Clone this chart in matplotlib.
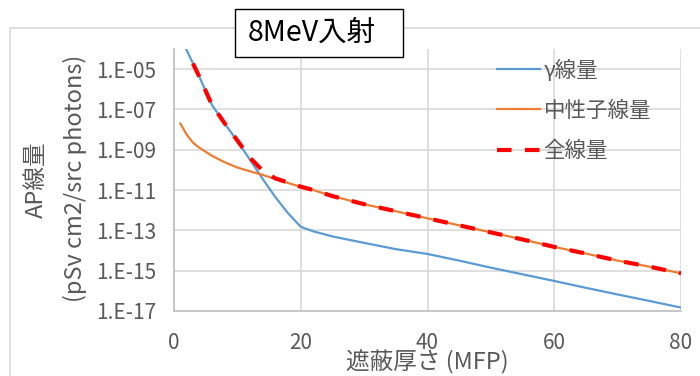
import numpy as np
import matplotlib
matplotlib.use("Agg")
import matplotlib.pyplot as plt
from matplotlib.patches import Rectangle

plt.rcParams['font.family'] = ['Noto Sans CJK JP', 'DejaVu Sans']

# 遮蔽厚さ (MFP)
thick = [1, 2, 3, 4, 6, 8, 10, 12, 14, 16, 18, 20, 22, 25, 30, 35, 40, 45, 50, 55, 60, 65, 70, 75, 80]
# log10 of dose
gamma_log = [-3.4, -4.06, -4.72, -5.38, -6.78, -7.7, -8.57, -9.5, -10.45, -11.35, -12.15, -12.82,
             -13.05, -13.3, -13.62, -13.93, -14.17, -14.5, -14.85, -15.18, -15.51, -15.85, -16.18, -16.5, -16.83]
neutron_log = [-7.7, -8.25, -8.65, -8.9, -9.3, -9.62, -9.88, -10.07, -10.25, -10.45, -10.65, -10.84,
               -11.0, -11.3, -11.7, -12.05, -12.4, -12.75, -13.1, -13.45, -13.82, -14.15, -14.5, -14.8, -15.13]
total_thick = thick[2:]
total_log = [-4.72, -5.38, -6.78, -7.69, -8.54, -9.4, -10.04, -10.42, -10.63, -10.83,
             -11.0, -11.3, -11.7, -12.05, -12.4, -12.75, -13.1, -13.45, -13.82, -14.15, -14.5, -14.8, -15.13]

yticks = [1e-17, 1e-15, 1e-13, 1e-11, 1e-9, 1e-7, 1e-5]
ytick_labels = ["1.E-17", "1.E-15", "1.E-13", "1.E-11", "1.E-09", "1.E-07", "1.E-05"]
xticks = [0, 20, 40, 60, 80]

gray = "#595959"

fig = plt.figure(figsize=(7, 3.76), dpi=100)
# outer chart frame (cut off at right/bottom)
fig.patches.append(Rectangle((10 / 700, -0.1), 1.2, 1 - 28 / 376 + 0.1, transform=fig.transFigure,
                             fill=False, edgecolor="#D9D9D9", linewidth=1.2))

ax = fig.add_axes([174 / 700, 1 - 311 / 376, (681 - 174) / 700, (311 - 49) / 376])
ax.plot(thick, 10.0 ** np.array(gamma_log), color="#5B9BD5", linewidth=1.6, label="γ線量")
ax.plot(thick, 10.0 ** np.array(neutron_log), color="#ED7D31", linewidth=1.6, label="中性子線量")
ax.plot(total_thick, 10.0 ** np.array(total_log), color="#FF0000", linewidth=3,
        linestyle=(0, (3.5, 3.2)), label="全線量")

ax.set_yscale("log")
ax.set_ylim(1e-17, 1e-4)
ax.set_xlim(0, 80)
ax.set_yticks(yticks)
ax.set_yticklabels(ytick_labels)
ax.yaxis.set_minor_locator(matplotlib.ticker.NullLocator())
ax.set_xticks(xticks)
ax.grid(True, color="#D9D9D9", linewidth=1.2)
ax.set_axisbelow(True)
for s in ["top", "right"]:
    ax.spines[s].set_visible(False)
for s in ["left", "bottom"]:
    ax.spines[s].set_color("#BFBFBF")
    ax.spines[s].set_linewidth(1.2)
ax.tick_params(length=0, labelsize=15, labelcolor=gray)
ax.tick_params(axis="x", pad=15)
ax.tick_params(axis="y", pad=13)

ax.set_xlabel("遮蔽厚さ (MFP)", fontsize=17, color=gray, labelpad=-3)
fig.text(36 / 700, 1 - 180 / 376, "AP線量", rotation=90, fontsize=17, color=gray,
         ha="center", va="center")
fig.text(75 / 700, 1 - 178 / 376, "(pSv cm2/src photons)", rotation=90, fontsize=17, color=gray,
         ha="center", va="center")

leg = ax.legend(loc="upper left", bbox_to_anchor=(478 / 700, 1 - 40 / 376),
                bbox_transform=fig.transFigure, frameon=False, fontsize=15.5,
                handlelength=2.0, handletextpad=0.15, labelspacing=0.85)
for t in leg.get_texts():
    t.set_color(gray)

# title box
fig.patches.append(Rectangle((235 / 700, 1 - 57 / 376), 168 / 700, 48 / 376, transform=fig.transFigure,
                             facecolor="white", edgecolor="black", linewidth=1, zorder=5))
fig.text(312 / 700, 1 - 33 / 376, "8MeV入射", fontsize=20.5, color="black", ha="center", va="center",
         zorder=6)

fig.savefig("out.png", dpi=100)
